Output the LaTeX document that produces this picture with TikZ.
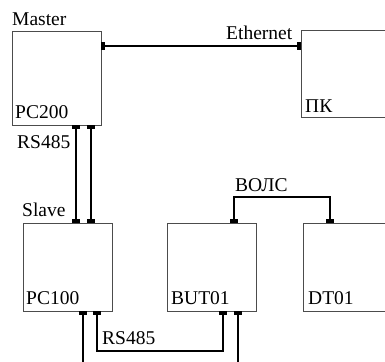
\documentclass[tikz,border=0pt]{standalone}
\usepackage{fontspec}
\setmainfont{Liberation Serif}
\begin{document}
\begin{tikzpicture}[x=1pt,y=-1pt,
  box/.style={draw=black!70, line width=1pt, inner sep=0pt, anchor=north west, minimum width=89pt},
  lbl/.style={anchor=base west, inner sep=0pt, font=\fontsize{19.5}{21}\selectfont},
  port/.style={fill=black, draw=none, inner sep=0pt, outer sep=0pt},
  hport/.style={port, minimum width=8pt, minimum height=4pt},
  vport/.style={port, minimum width=4pt, minimum height=8pt},
  wire/.style={line width=2pt, draw=black}]
\useasboundingbox (0,0) rectangle (385,361);
% boxes
\node[box, minimum height=94pt] (pc200) at (12,31) {};
\node[box, minimum height=87pt, minimum width=95pt] (pk) at (301,30) {};
\node[box, minimum height=88pt] (pc100) at (23,223) {};
\node[box, minimum height=88pt] (but01) at (167,223) {};
\node[box, minimum height=88pt, minimum width=95pt] (dt01) at (303,223) {};
% ports
\node[vport] (pe1) at (103,46) {};
\node[vport] (pe2) at (299,46) {};
\node[hport] (pa1) at (76,127) {};
\node[hport] (pa2) at (91,127) {};
\node[hport] (pa3) at (76,221) {};
\node[hport] (pa4) at (91,221) {};
\node[hport] (pb1) at (83,313) {};
\node[hport] (pb2) at (97,313) {};
\node[hport] (pc1) at (223,313) {};
\node[hport] (pc2) at (238,313) {};
\node[hport] (pv1) at (234,221) {};
\node[hport] (pv2) at (330,221) {};
\coordinate (e1) at (83,366);
\coordinate (e2) at (238,366);
\coordinate (rsbot) at (160,351);
\coordinate (vtop) at (282,197);
% wires
\draw[wire] (pe1) -- (pe2);
\draw[wire] (pa1) -- (pa3);
\draw[wire] (pa2) -- (pa4);
\draw[wire] (pb1) -- (e1);
\draw[wire] (pb2.south) |- (rsbot) -| (pc1.south);
\draw[wire] (pc2) -- (e2);
\draw[wire] (pv1.north) |- (vtop) -| (pv2.north);
% labels
\node[lbl] (lmaster) at (12,26) {Master};
\node[lbl] (lpc200) at (15,118) {PC200};
\node[lbl] (lpk) at (305,112) {ПК};
\node[lbl] (lrs1) at (17,148) {RS485};
\node[lbl] (lslave) at (22,216) {Slave};
\node[lbl] (lpc100) at (26,304) {PC100};
\node[lbl] (lbut) at (171,304) {BUT01};
\node[lbl] (ldt) at (308,304) {DT01};
\node[lbl] (lvols) at (235,191) {ВОЛС};
\node[lbl] (leth) at (226,40) {Ethernet};
\node[lbl] (lrs2) at (102,344) {RS485};
\end{tikzpicture}
\end{document}
